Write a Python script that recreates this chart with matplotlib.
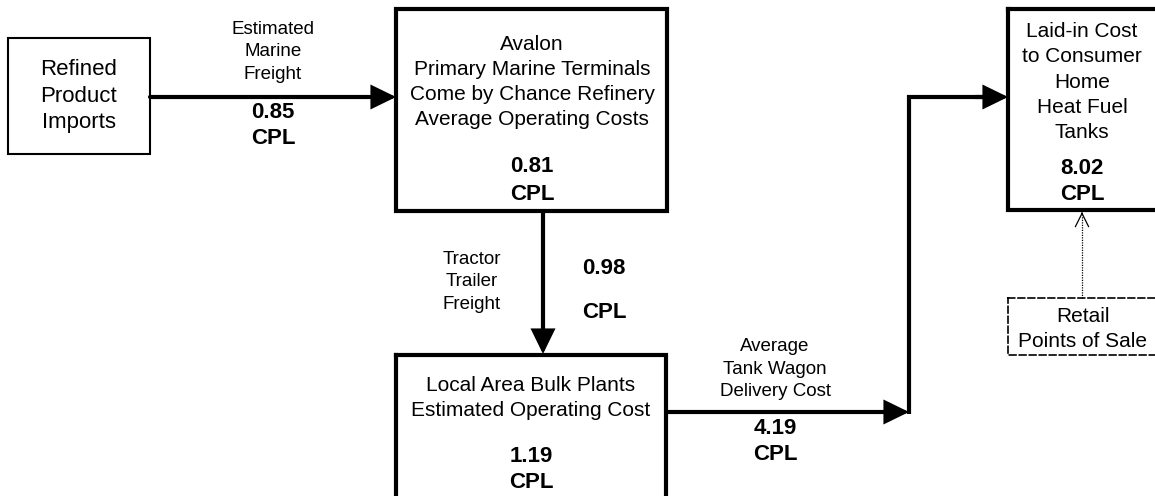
import matplotlib
matplotlib.use("Agg")
import matplotlib.pyplot as plt
import matplotlib.patches as patches

plt.rcParams['font.family'] = ['Liberation Sans', 'DejaVu Sans']

# cost per litre (CPL) at each step of the chain
cost_labels = ["Marine Freight", "Terminals", "Trailer Freight", "Bulk Plants", "Tank Wagon", "Laid-in"]
cost_values = [0.85, 0.81, 0.98, 1.19, 4.19, 8.02]
unit = "CPL"

box_titles = [
    "Refined\nProduct\nImports",
    "Avalon\nPrimary Marine Terminals\nCome by Chance Refinery\nAverage Operating Costs",
    "Local Area Bulk Plants\nEstimated Operating Cost",
    "Laid-in Cost\nto Consumer\nHome\nHeat Fuel\nTanks",
    "Retail\nPoints of Sale",
]
link_titles = [
    "Estimated\nMarine\nFreight",
    "Tractor\nTrailer\nFreight",
    "Average\nTank Wagon\nDelivery Cost",
]

W, H = 1155, 496
fig = plt.figure(figsize=(W / 100, H / 100), dpi=100)
ax = fig.add_axes([0, 0, 1, 1])
ax.set_xlim(0, W)
ax.set_ylim(H, 0)
ax.axis('off')


def box(x1, y1, x2, y2, lw=3, ls='-'):
    ax.add_patch(patches.Rectangle((x1, y1), x2 - x1, y2 - y1, fill=False,
                                   edgecolor='black', linewidth=lw, linestyle=ls,
                                   joinstyle='miter', capstyle='projecting'))


def arrow(x0, y0, x1, y1):
    ax.annotate("", xy=(x1, y1), xytext=(x0, y0),
                arrowprops=dict(arrowstyle='-|>,head_length=0.45,head_width=0.22',
                                mutation_scale=30, lw=3, color='black',
                                shrinkA=0, shrinkB=0, joinstyle='miter'))


def txt(x, y, s, size=15, bold=False, ls=1.42):
    ax.text(x, y, s, ha='center', va='center', fontsize=size,
            fontweight='bold' if bold else 'normal', color='black', linespacing=ls)


def cpl(v):
    return f"{v:.2f}"


# boxes
box(8, 38, 150, 154, lw=1.5)
box(396, 9, 667, 211)
box(396, 355, 666, 510)
box(1008, 9, 1165, 210)
box(1008, 298, 1165, 355, lw=1.2, ls=(0, (4, 2)))

# flows
arrow(150, 97, 396, 97)
arrow(543, 211, 543, 354)
arrow(666, 412, 909, 412)
ax.plot([909, 909, 985], [414, 97, 97], color='black', lw=3,
        solid_joinstyle='miter', solid_capstyle='butt')
arrow(975, 97, 1008, 97)
ax.plot([1082, 1082], [298, 215], color='black', lw=0.9, linestyle=(0, (1, 1)))
ax.annotate("", xy=(1082, 212), xytext=(1082, 214),
            arrowprops=dict(arrowstyle='->,head_length=0.6,head_width=0.3',
                            mutation_scale=16, lw=0.9, color='black',
                            shrinkA=0, shrinkB=0))

# box texts
txt(79, 96, box_titles[0], size=16, ls=1.37)
txt(532, 82, box_titles[1])
txt(532, 167, cpl(cost_values[1]), size=16, bold=True)
txt(532, 194, unit, size=16, bold=True)
txt(531, 398, box_titles[2])
txt(531, 456, cpl(cost_values[3]), size=16, bold=True)
txt(531, 483, unit, size=16, bold=True)
txt(1082, 82, box_titles[3])
txt(1082, 168, cpl(cost_values[5]), size=16, bold=True)
txt(1082, 194, unit, size=16, bold=True)
txt(1083, 329, box_titles[4])

# link texts
txt(273, 52, link_titles[0], size=13.5, ls=1.42)
txt(273, 112, cpl(cost_values[0]), size=16, bold=True)
txt(273, 139, unit, size=16, bold=True)
txt(472, 282, link_titles[1], size=13.5, ls=1.42)
txt(604, 269, cpl(cost_values[2]), size=16, bold=True)
txt(604, 312, unit, size=16, bold=True)
txt(775, 369, link_titles[2], size=13.5, ls=1.42)
txt(775, 428, cpl(cost_values[4]), size=16, bold=True)
txt(775, 454, unit, size=16, bold=True)

fig.savefig("out.png", dpi=100, facecolor='white')
